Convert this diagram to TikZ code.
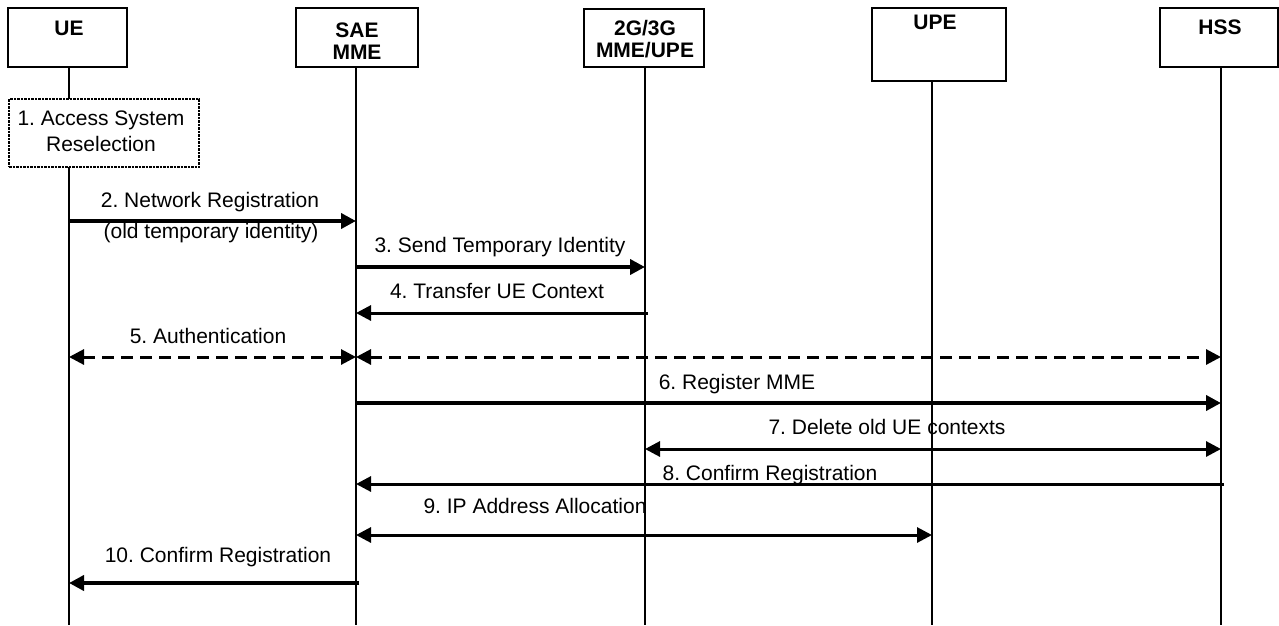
\documentclass[tikz,border=0pt]{standalone}
\usepackage{fontspec}
\setmainfont{Liberation Sans}
\frenchspacing
\usetikzlibrary{arrows.meta}
\begin{document}
\begin{tikzpicture}[x=1pt,y=-1pt,
  actor/.style={draw, line width=2pt, inner sep=0pt, outer sep=0pt, anchor=north west},
  title/.style={font=\bfseries\fontsize{21}{22}\selectfont, inner sep=0pt, anchor=base, align=center},
  lbl/.style={font=\fontsize{21}{26}\selectfont, inner sep=0pt, anchor=base, align=center},
  life/.style={line width=1.3pt},
  recbox/.style={draw, line width=2.5pt, dash pattern=on 2.5pt off 1pt, inner sep=0pt, outer sep=0pt, anchor=north west},
  thin/.style={line width=3pt, line cap=butt},
  heavy/.style={line width=4.4pt, line cap=butt},
  dashmsg/.style={line width=3pt, dash pattern=on 12pt off 7pt},
  fwd/.style={-{Triangle[length=15pt,width=15pt]}},
  twoway/.style={{Triangle[length=15pt,width=15pt]}-{Triangle[length=15pt,width=15pt]}}]
\useasboundingbox (0,0) rectangle (1279,625);

% lifeline abscissas and the bottom edge
\coordinate (lUE)  at (69,0);
\coordinate (lSAE) at (356,0);
\coordinate (lG)   at (645,0);
\coordinate (lUPE) at (932,0);
\coordinate (lHSS) at (1221,0);
\coordinate (bot)  at (0,625);

% entity boxes
\node[actor, minimum width=119pt, minimum height=59pt] (ue)  at (8,8) {};
\node[actor, minimum width=122pt, minimum height=59pt] (sae) at (296,8) {};
\node[actor, minimum width=120pt, minimum height=58pt] (g23) at (584,9) {};
\node[actor, minimum width=134pt, minimum height=73pt] (upe) at (872,8) {};
\node[actor, minimum width=118pt, minimum height=59pt] (hss) at (1160,8) {};

% entity names (base anchor sits on the last line)
\node[title] (tUE)  at (69,35.5)  {UE};
\node[title] (tSAE) at (357,59)   {SAE\\MME};
\node[title] (tG)   at (645,57.5) {2G/3G\\MME/UPE};
\node[title] (tUPE) at (935,29)   {UPE};
\node[title] (tHSS) at (1220,34.5) {HSS};

% access system reselection step
\node[recbox, minimum width=190pt, minimum height=68pt] (resel) at (9,99) {};
\node[lbl] (tResel) at (101,151) {1. Access System\\Reselection};

% lifelines
\draw[life] (ue.south -| lUE) -- (resel.north -| lUE);
\draw[life] (resel.south -| lUE) -- (lUE |- bot);
\draw[life] (sae.south -| lSAE) -- (lSAE |- bot);
\draw[life] (g23.south -| lG) -- (lG |- bot);
\draw[life] (upe.south -| lUPE) -- (lUPE |- bot);
\draw[life] (hss.south -| lHSS) -- (lHSS |- bot);

% messages
\draw[heavy, fwd] (lUE |- 0,221) -- (lSAE |- 0,221);
\node[lbl] (m2)  at (210,207.5) {2. Network Registration};
\node[lbl] (m2b) at (211,238.5) {(old temporary identity)};

\draw[heavy, fwd] (lSAE |- 0,267) -- (lG |- 0,267);
\node[lbl] (m3) at (500,252.5) {3. Send Temporary Identity};

\draw[thin, fwd] ([xshift=3pt]lG |- 0,313) -- (lSAE |- 0,313);
\node[lbl] (m4) at (497,298.5) {4. Transfer UE Context};

\draw[dashmsg, twoway] (lUE |- 0,357) -- (lSAE |- 0,357);
\draw[dashmsg, twoway] (lSAE |- 0,357) -- (lHSS |- 0,357);
\node[lbl] (m5) at (208,343.5) {5. Authentication};

\draw[heavy, fwd] (lSAE |- 0,403) -- (lHSS |- 0,403);
\node[lbl] (m6) at (737,389.5) {6. Register MME};

\draw[thin, twoway] (lG |- 0,449) -- (lHSS |- 0,449);
\node[lbl] (m7) at (887,434.5) {7. Delete old UE contexts};

\draw[thin, fwd] ([xshift=3pt]lHSS |- 0,484) -- (lSAE |- 0,484);
\node[lbl] (m8) at (770,480.5) {8. Confirm Registration};

\draw[thin, twoway] (lSAE |- 0,535) -- (lUPE |- 0,535);
\node[lbl] (m9) at (535,513.5) {9. IP Address Allocation};

\draw[heavy, fwd] ([xshift=3pt]lSAE |- 0,583) -- (lUE |- 0,583);
\node[lbl] (m10) at (218,562.5) {10. Confirm Registration};
\end{tikzpicture}
\end{document}
